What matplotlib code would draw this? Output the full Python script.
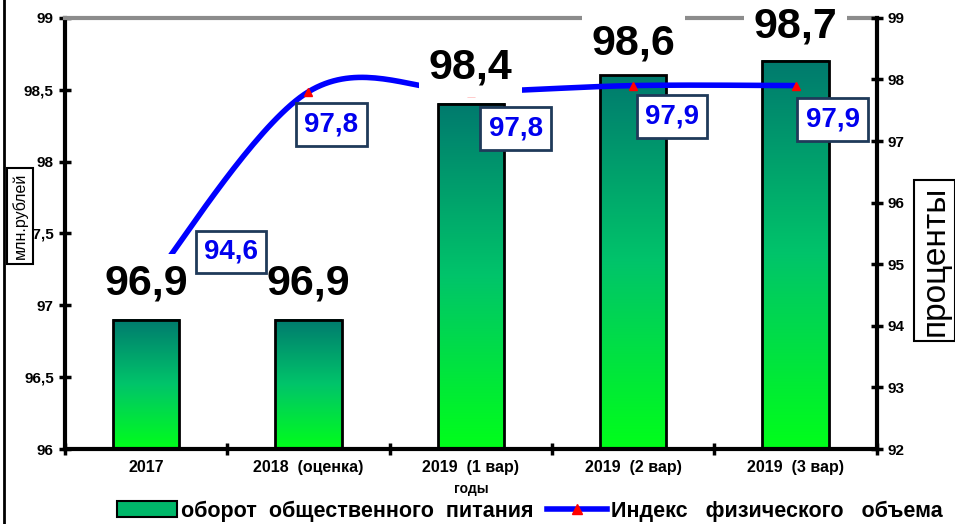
# оборот общественного питания / индекс физического объема

import matplotlib.pyplot as plt
from matplotlib.colors import LinearSegmentedColormap
from matplotlib.lines import Line2D
from matplotlib.patches import Patch
import numpy as np

plt.rcParams['font.family'] = ['Liberation Sans', 'DejaVu Sans']

categories = ['2017', '2018  (оценка)', '2019  (1 вар)', '2019  (2 вар)', '2019  (3 вар)']
turnover = [96.9, 96.9, 98.4, 98.6, 98.7]       # млн.рублей, left axis
index_vol = [94.6, 97.8, 97.8, 97.9, 97.9]      # проценты, right axis
turnover_labels = ['96,9', '96,9', '98,4', '98,6', '98,7']
index_labels = ['94,6', '97,8', '97,8', '97,9', '97,9']
left_ticks = [96, 96.5, 97, 97.5, 98, 98.5, 99]
left_tick_labels = ['96', '96,5', '97', '97,5', '98', '98,5', '99']
right_ticks = [92, 93, 94, 95, 96, 97, 98, 99]

# label offsets in pixels (layout only)
bar_offsets = [36, 36, 37, 32, 34]
index_offsets = [(85, 37), (23, -33), (45, -37), (39, -31), (37, -34)]


def smooth(xs, ys, steps=40):
    # catmull-rom, looks like excel "smoothed line"
    px = [xs[0]] + list(xs) + [xs[-1]]
    py = [ys[0]] + list(ys) + [ys[-1]]
    ox, oy = [], []
    for i in range(1, len(px) - 2):
        t = np.linspace(0, 1, steps)
        for p, out in ((px, ox), (py, oy)):
            p0, p1, p2, p3 = p[i - 1], p[i], p[i + 1], p[i + 2]
            m1 = (p2 - p0) / 2
            m2 = (p3 - p1) / 2
            h00 = 2 * t**3 - 3 * t**2 + 1
            h10 = t**3 - 2 * t**2 + t
            h01 = -2 * t**3 + 3 * t**2
            h11 = t**3 - t**2
            out.extend(h00 * p1 + h10 * m1 + h01 * p2 + h11 * m2)
    return ox, oy


x = np.arange(len(categories))
w = 0.41
cmap = LinearSegmentedColormap.from_list('grn', ['#00ff1a', '#00c46a', '#007a6e'])

fig = plt.figure(figsize=(9.55, 5.24), dpi=100)
ax = fig.add_axes([0.068, 0.143, 0.850, 0.823])
ax2 = ax.twinx()

# bars with vertical gradient
grad = np.linspace(0, 1, 256).reshape(-1, 1)
for xi, v in zip(x, turnover):
    ax.imshow(grad, extent=[xi - w / 2, xi + w / 2, 96, v], origin='lower',
              aspect='auto', cmap=cmap, zorder=1)
ax.bar(x, np.array(turnover) - 96, bottom=96, width=w, facecolor='none',
       edgecolor='black', linewidth=2, zorder=2)

ax.set_xlim(-0.5, 4.5)
ax.set_ylim(96, 99)
ax.set_yticks(left_ticks)
ax.set_yticklabels(left_tick_labels)
ax.set_xticks(x)
ax.set_xticklabels(categories)
ax.set_xticks(np.arange(-0.5, 5, 1), minor=True)
ax.tick_params(axis='x', which='major', length=0, pad=8, labelsize=11.5)
ax.tick_params(axis='x', which='minor', direction='inout', length=9, width=2.5)
ax.tick_params(axis='y', direction='inout', length=9, width=2.5, labelsize=11)
for lab in ax.get_yticklabels() + ax.get_xticklabels():
    lab.set_fontweight('bold')
ax.set_xlabel('годы', fontsize=10, fontweight='bold', labelpad=5)

ax.spines['left'].set_linewidth(3)
ax.spines['bottom'].set_linewidth(3)
ax.spines['top'].set_color('#8c8c8c')
ax.spines['top'].set_linewidth(3)
ax.spines['right'].set_visible(False)

# index line on the right axis
sx, sy = smooth(x, index_vol)
ax2.plot(sx, sy, color='#0000ff', linewidth=4, solid_capstyle='butt', zorder=3)
ax2.plot(x, index_vol, linestyle='none', marker='^', markersize=6,
         color='#ff0000', zorder=4)
ax2.set_ylim(92, 99)
ax2.set_yticks(right_ticks)
ax2.tick_params(axis='y', direction='inout', length=9, width=2.5, labelsize=11)
for lab in ax2.get_yticklabels():
    lab.set_fontweight('bold')
for s in ['left', 'top', 'bottom']:
    ax2.spines[s].set_visible(False)
ax2.spines['right'].set_linewidth(3)

# bar value labels (drawn on ax2 so they cover the line)
for xi, v, t, off in zip(x, turnover, turnover_labels, bar_offsets):
    ax2.annotate(t, xy=(xi, v), xycoords=ax.transData, xytext=(0, off),
                 textcoords='offset pixels', ha='center', va='center',
                 fontsize=31, fontweight='bold', color='black', zorder=6,
                 annotation_clip=False,
                 bbox=dict(boxstyle='square,pad=0.22', facecolor='white', edgecolor='none'))

# index value labels in boxes
for xi, v, t, off in zip(x, index_vol, index_labels, index_offsets):
    ax2.annotate(t, xy=(xi, v), xytext=off, textcoords='offset pixels',
                 ha='center', va='center', fontsize=20, fontweight='bold',
                 color='#0000ee', zorder=7,
                 bbox=dict(boxstyle='square,pad=0.3', facecolor='white',
                           edgecolor='#1f3a5a', linewidth=2))

# axis titles in boxes
fig.text(0.021, 0.588, 'млн.рублей', rotation=90, ha='center', va='center',
         fontsize=11.5, bbox=dict(boxstyle='square,pad=0.3', facecolor='white',
                                  edgecolor='black', linewidth=1.5))
fig.text(0.979, 0.503, 'проценты', rotation=90, ha='center', va='center',
         fontsize=24, bbox=dict(boxstyle='square,pad=0.15', facecolor='white',
                                edgecolor='black', linewidth=1.5))

# left frame edge
fig.add_artist(Line2D([0.004, 0.004], [0, 1], color='black', linewidth=2))

handles = [Patch(facecolor='#00b86a', edgecolor='black', linewidth=1.5),
           Line2D([], [], color='#0000ff', linewidth=4, marker='^',
                  markersize=7, markerfacecolor='#ff0000', markeredgecolor='#ff0000')]
labels = ['оборот  общественного  питания', 'Индекс   физического   объема']
fig.legend(handles, labels, loc='center', bbox_to_anchor=(0.555, 0.025),
           ncol=2, frameon=True, facecolor='white', edgecolor='white',
           framealpha=1, fancybox=False, borderpad=0.05, handlelength=2.8,
           handletextpad=0.2, columnspacing=0.6,
           prop={'size': 15.5, 'weight': 'bold'})

fig.savefig('out.png', dpi=100)
